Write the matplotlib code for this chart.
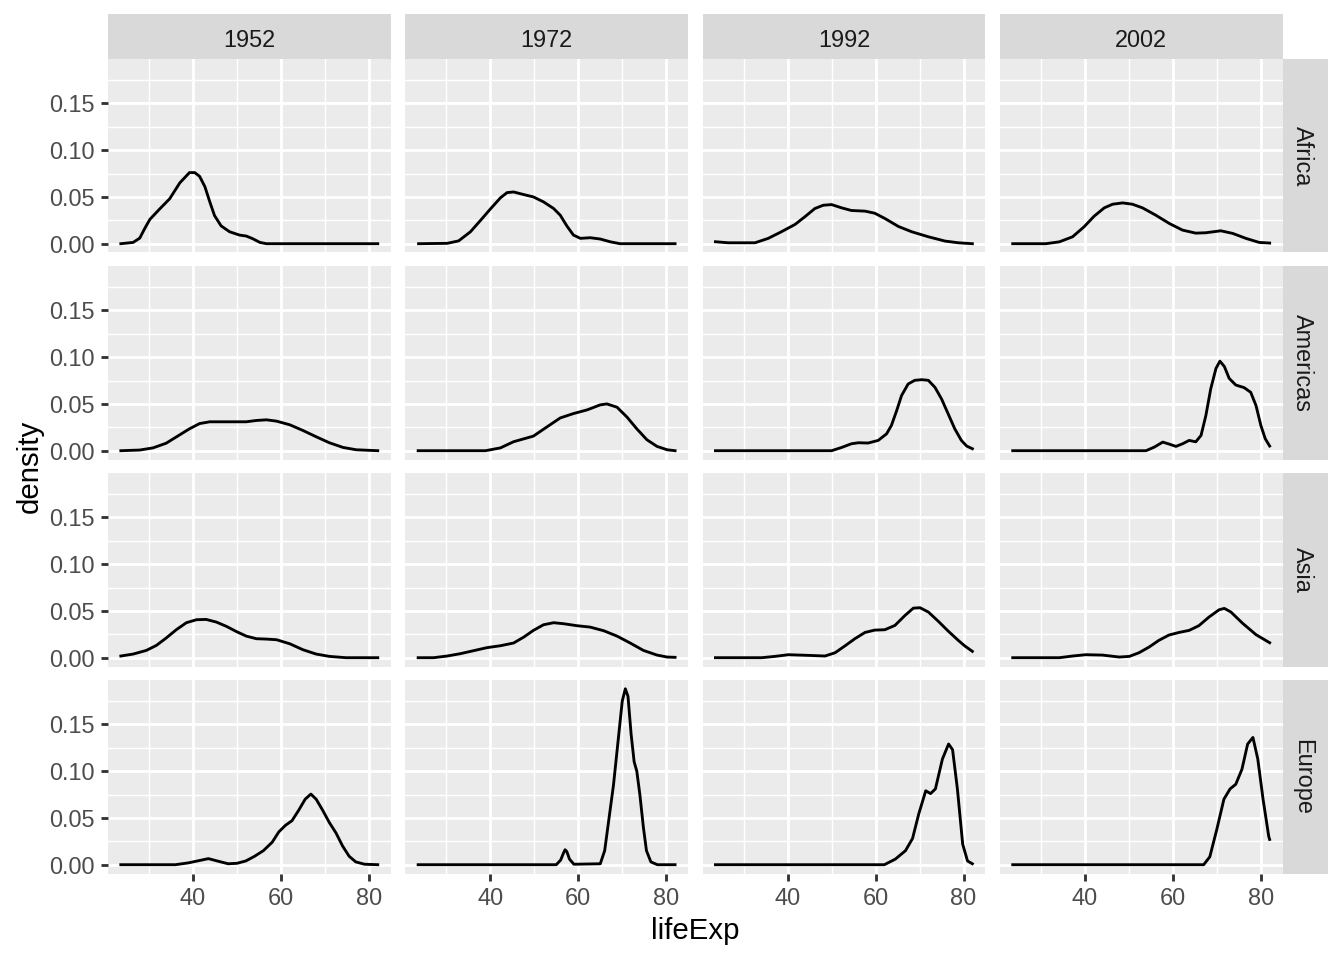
import matplotlib
matplotlib.use("Agg")
import matplotlib.pyplot as plt

plt.rcParams['font.family'] = ['Liberation Sans', 'DejaVu Sans']

years = ['1952', '1972', '1992', '2002']
continents = ['Africa', 'Americas', 'Asia', 'Europe']
x_ticks = [40, 60, 80]
x_minor = [30, 50, 70]
x_tick_labels = ['40', '60', '80']
y_ticks = [0.0, 0.05, 0.10, 0.15]
y_minor = [0.025, 0.075, 0.125, 0.175]
y_tick_labels = ['0.00', '0.05', '0.10', '0.15']
x_label = 'lifeExp'
y_label = 'density'

# density curves (lifeExp, density)
africa_1952_x = [23.6, 26.4, 27.9, 29.0, 30.2, 32.4, 34.7, 37.0, 39.2, 40.4, 41.5, 42.7, 43.8, 44.9, 46.4, 48.3, 50.6, 52.1, 53.6, 55.2, 56.7, 82.0]
africa_1952_y = [0.0, 0.0014, 0.006, 0.016, 0.026, 0.037, 0.048, 0.065, 0.076, 0.076, 0.072, 0.061, 0.045, 0.030, 0.019, 0.0128, 0.0092, 0.0082, 0.0053, 0.0014, 0.0, 0.0]
africa_1972_x = [23.7, 30.2, 32.8, 35.5, 37.7, 40.0, 42.3, 43.8, 45.3, 47.6, 49.8, 52.1, 54.4, 55.9, 57.4, 58.9, 60.5, 62.7, 65.0, 67.3, 69.5, 82.0]
africa_1972_y = [0.0, 0.0004, 0.003, 0.0128, 0.0245, 0.037, 0.049, 0.0546, 0.0553, 0.0525, 0.050, 0.0447, 0.0376, 0.0305, 0.019, 0.0092, 0.0057, 0.0064, 0.005, 0.002, 0.0, 0.0]
africa_1992_x = [23.6, 26.5, 32.6, 35.6, 38.6, 41.7, 43.9, 46.2, 48.1, 50.0, 52.3, 54.5, 57.6, 59.8, 62.1, 65.2, 68.2, 72.0, 75.8, 78.8, 82.0]
africa_1992_y = [0.0021, 0.001, 0.001, 0.0057, 0.0128, 0.0206, 0.0287, 0.0376, 0.0411, 0.0418, 0.0383, 0.0355, 0.0348, 0.0326, 0.027, 0.0184, 0.0128, 0.0074, 0.0028, 0.001, 0.0]
africa_2002_x = [23.6, 31.1, 34.2, 37.2, 39.8, 42.1, 44.4, 46.3, 48.6, 50.8, 53.1, 56.1, 59.2, 62.2, 65.2, 67.5, 70.9, 73.6, 76.6, 79.6, 82.0]
africa_2002_y = [0.0, 0.0, 0.002, 0.0074, 0.018, 0.0294, 0.0383, 0.0422, 0.0436, 0.0422, 0.0383, 0.0305, 0.0216, 0.0145, 0.0113, 0.0117, 0.0138, 0.011, 0.0057, 0.0014, 0.0007]

americas_1952_x = [23.6, 27.9, 30.9, 33.9, 37.0, 39.2, 41.5, 43.8, 47.6, 52.1, 54.4, 56.7, 59.0, 62.0, 65.0, 68.0, 71.0, 74.1, 77.1, 82.0]
americas_1952_y = [0.0, 0.0007, 0.003, 0.008, 0.017, 0.0234, 0.029, 0.0309, 0.0309, 0.0309, 0.0323, 0.033, 0.0316, 0.0277, 0.0216, 0.0149, 0.0085, 0.0035, 0.001, 0.0]
americas_1972_x = [23.6, 38.9, 42.3, 45.3, 49.8, 52.9, 55.9, 58.9, 62.0, 65.0, 66.5, 68.8, 71.1, 73.3, 75.6, 77.9, 80.2, 82.0]
americas_1972_y = [0.0, 0.0, 0.003, 0.0096, 0.0156, 0.0255, 0.035, 0.0397, 0.0436, 0.049, 0.050, 0.0465, 0.0358, 0.0234, 0.0117, 0.0046, 0.001, 0.0]
americas_1992_x = [23.6, 50.0, 52.3, 54.5, 56.1, 58.3, 60.6, 62.5, 63.6, 64.8, 65.9, 67.4, 68.9, 70.5, 72.0, 73.5, 75.0, 76.5, 78.0, 79.5, 80.7, 82.0]
americas_1992_y = [0.0, 0.0, 0.0035, 0.0074, 0.0085, 0.0082, 0.011, 0.018, 0.027, 0.0429, 0.0589, 0.0713, 0.0752, 0.0759, 0.0752, 0.0677, 0.0553, 0.0394, 0.0234, 0.011, 0.005, 0.0021]
americas_2002_x = [23.6, 53.9, 55.8, 57.7, 59.2, 60.7, 62.2, 63.7, 65.2, 66.4, 67.5, 68.6, 69.8, 70.7, 71.7, 72.8, 74.3, 76.2, 77.7, 78.9, 80.0, 81.0, 82.0]
americas_2002_y = [0.0, 0.0, 0.0039, 0.0092, 0.007, 0.0046, 0.0074, 0.011, 0.0095, 0.0163, 0.0376, 0.066, 0.088, 0.0957, 0.090, 0.0773, 0.0702, 0.0674, 0.0624, 0.0482, 0.027, 0.0128, 0.005]

asia_1952_x = [23.6, 26.4, 29.4, 31.7, 33.9, 36.2, 38.5, 40.8, 43.0, 45.3, 47.6, 49.8, 52.1, 54.4, 56.7, 59.0, 62.0, 65.0, 68.0, 71.0, 74.8, 82.0]
asia_1952_y = [0.0018, 0.0039, 0.0078, 0.0132, 0.021, 0.0299, 0.0374, 0.0406, 0.0409, 0.0381, 0.0335, 0.0281, 0.0231, 0.0203, 0.0199, 0.0192, 0.0149, 0.0085, 0.0039, 0.0014, 0.0, 0.0]
asia_1972_x = [23.6, 27.1, 30.2, 33.2, 36.2, 39.2, 42.3, 45.3, 47.6, 49.8, 52.1, 54.4, 56.7, 59.7, 62.7, 65.8, 68.8, 71.8, 74.8, 77.9, 80.2, 82.0]
asia_1972_y = [0.0, 0.0, 0.0018, 0.0043, 0.0075, 0.0107, 0.0128, 0.0157, 0.022, 0.0292, 0.0352, 0.0374, 0.0363, 0.0342, 0.0327, 0.0288, 0.0231, 0.0157, 0.0078, 0.0028, 0.0007, 0.0004]
asia_1992_x = [23.6, 34.1, 37.1, 40.2, 44.7, 48.5, 50.8, 53.0, 55.3, 57.6, 59.8, 62.1, 64.4, 66.7, 68.6, 70.1, 72.0, 74.2, 76.5, 78.8, 80.3, 82.0]
asia_1992_y = [0.0, 0.0, 0.0014, 0.0032, 0.0025, 0.0018, 0.0053, 0.0125, 0.0203, 0.027, 0.0295, 0.0299, 0.0345, 0.0452, 0.053, 0.0534, 0.0488, 0.0392, 0.0285, 0.0185, 0.0125, 0.0068]
asia_2002_x = [23.6, 34.2, 37.2, 40.2, 44.0, 47.8, 50.1, 52.3, 54.6, 56.8, 59.1, 61.4, 63.7, 65.9, 68.2, 70.5, 71.7, 73.2, 75.8, 78.9, 82.0]
asia_2002_y = [0.0, 0.0, 0.0018, 0.0032, 0.0028, 0.0007, 0.0014, 0.0053, 0.0114, 0.0185, 0.0242, 0.027, 0.0292, 0.0342, 0.0434, 0.0512, 0.0527, 0.0488, 0.037, 0.0246, 0.016]

europe_1952_x = [23.6, 36.0, 39.0, 42.0, 43.5, 45.5, 48.0, 50.0, 52.0, 54.0, 56.0, 58.0, 59.5, 61.0, 62.5, 64.0, 65.5, 66.8, 68.0, 69.5, 71.0, 72.5, 74.0, 75.5, 77.0, 79.0, 82.0]
europe_1952_y = [0.0, 0.0, 0.002, 0.005, 0.0065, 0.004, 0.001, 0.0015, 0.004, 0.009, 0.015, 0.024, 0.035, 0.042, 0.047, 0.058, 0.070, 0.0755, 0.070, 0.058, 0.045, 0.034, 0.020, 0.009, 0.003, 0.0005, 0.0]
europe_1972_x = [23.6, 55.0, 56.0, 56.6, 57.0, 57.4, 58.0, 59.0, 65.0, 66.0, 67.0, 68.0, 69.0, 70.0, 70.7, 71.3, 72.0, 72.7, 73.3, 74.0, 74.8, 75.5, 76.5, 78.0, 82.0]
europe_1972_y = [0.0, 0.0, 0.005, 0.012, 0.016, 0.014, 0.006, 0.0005, 0.001, 0.015, 0.050, 0.085, 0.130, 0.175, 0.188, 0.180, 0.140, 0.110, 0.100, 0.075, 0.040, 0.015, 0.003, 0.0, 0.0]
europe_1992_x = [23.6, 62.0, 64.5, 66.8, 68.4, 69.8, 71.4, 72.5, 73.6, 75.2, 76.6, 77.5, 78.6, 79.8, 80.9, 82.0]
europe_1992_y = [0.0, 0.0, 0.006, 0.015, 0.028, 0.054, 0.079, 0.076, 0.081, 0.113, 0.129, 0.123, 0.081, 0.022, 0.004, 0.001]
europe_2002_x = [23.6, 67.0, 68.4, 70.0, 71.6, 73.0, 74.3, 75.7, 77.0, 78.2, 79.3, 80.5, 81.8, 82.0]
europe_2002_y = [0.0, 0.0, 0.0085, 0.038, 0.070, 0.081, 0.086, 0.102, 0.129, 0.136, 0.113, 0.070, 0.030, 0.027]

curves = {
    ('Africa', '1952'): (africa_1952_x, africa_1952_y),
    ('Africa', '1972'): (africa_1972_x, africa_1972_y),
    ('Africa', '1992'): (africa_1992_x, africa_1992_y),
    ('Africa', '2002'): (africa_2002_x, africa_2002_y),
    ('Americas', '1952'): (americas_1952_x, americas_1952_y),
    ('Americas', '1972'): (americas_1972_x, americas_1972_y),
    ('Americas', '1992'): (americas_1992_x, americas_1992_y),
    ('Americas', '2002'): (americas_2002_x, americas_2002_y),
    ('Asia', '1952'): (asia_1952_x, asia_1952_y),
    ('Asia', '1972'): (asia_1972_x, asia_1972_y),
    ('Asia', '1992'): (asia_1992_x, asia_1992_y),
    ('Asia', '2002'): (asia_2002_x, asia_2002_y),
    ('Europe', '1952'): (europe_1952_x, europe_1952_y),
    ('Europe', '1972'): (europe_1972_x, europe_1972_y),
    ('Europe', '1992'): (europe_1992_x, europe_1992_y),
    ('Europe', '2002'): (europe_2002_x, europe_2002_y),
}

# scale limits like ggplot (5% expansion)
all_x = [v for k in curves for v in curves[k][0]]
all_y = [v for k in curves for v in curves[k][1]]
xmin, xmax = min(all_x), max(all_x)
ymax = max(all_y)
xr = xmax - xmin
xlim = (xmin - 0.05 * xr, xmax + 0.05 * xr)
ylim = (-0.05 * ymax, 1.05 * ymax)

W, H = 1344, 960
fig = plt.figure(figsize=(7, 5), dpi=192)

col_left = [108, 405.3, 702.6, 999.9]
pw = 282.6
row_top = [59, 266, 473, 680]
ph = 193.5
strip = 45

def fr(l, t, w, h):
    return [l / W, 1 - (t + h) / H, w / W, h / H]

grid_major = 1.07
grid_minor = 0.53

for r, cont in enumerate(continents):
    for c, yr in enumerate(years):
        ax = fig.add_axes(fr(col_left[c], row_top[r], pw, ph))
        ax.set_facecolor('#EBEBEB')
        for s in ax.spines.values():
            s.set_visible(False)
        ax.set_xlim(*xlim)
        ax.set_ylim(*ylim)
        ax.set_xticks(x_ticks)
        ax.set_xticks(x_minor, minor=True)
        ax.set_yticks(y_ticks)
        ax.set_yticks(y_minor, minor=True)
        ax.grid(which='major', color='white', linewidth=grid_major)
        ax.grid(which='minor', color='white', linewidth=grid_minor)
        ax.set_axisbelow(True)
        ax.tick_params(which='minor', length=0)
        ax.tick_params(which='major', length=2.75, width=1.07, color='#333333',
                       labelsize=8.8, labelcolor='#4D4D4D', pad=2.2)
        if c == 0:
            ax.set_yticklabels(y_tick_labels)
        else:
            ax.tick_params(axis='y', which='major', length=0, labelleft=False)
        if r == len(continents) - 1:
            ax.set_xticklabels(x_tick_labels)
        else:
            ax.tick_params(axis='x', which='major', length=0, labelbottom=False)
        xs, ys = curves[(cont, yr)]
        ax.plot(xs, ys, color='black', linewidth=1.07, solid_joinstyle='round')

        if r == 0:
            sa = fig.add_axes(fr(col_left[c], row_top[0] - strip, pw, strip))
            sa.set_facecolor('#D9D9D9')
            sa.set_xticks([]); sa.set_yticks([])
            for s in sa.spines.values():
                s.set_visible(False)
            sa.text(0.5, 0.42, yr, ha='center', va='center', fontsize=8.8,
                    color='#1A1A1A', transform=sa.transAxes)
        if c == len(years) - 1:
            sa = fig.add_axes(fr(col_left[c] + pw, row_top[r], strip, ph))
            sa.set_facecolor('#D9D9D9')
            sa.set_xticks([]); sa.set_yticks([])
            for s in sa.spines.values():
                s.set_visible(False)
            sa.text(0.45, 0.5, cont, ha='center', va='center', fontsize=8.8,
                    color='#1A1A1A', rotation=-90, transform=sa.transAxes)

fig.text((108 + 1282) / 2 / W, 1 - 931 / H, x_label, ha='center', va='center',
         fontsize=11, color='black')
fig.text(30 / W, 1 - 466 / H, y_label, ha='center', va='center',
         fontsize=11, color='black', rotation=90)

fig.savefig('out.png', dpi=192, facecolor='white')
